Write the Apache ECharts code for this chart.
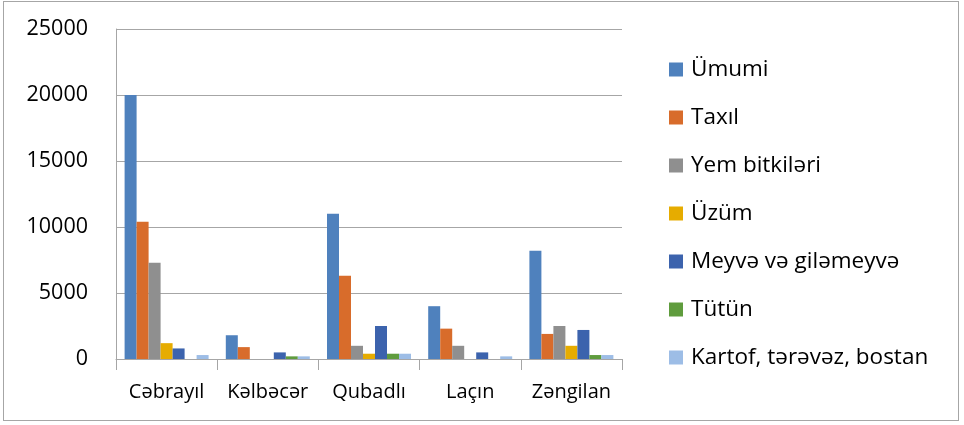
<!DOCTYPE html>
<html>
<head>
<meta charset="utf-8">
<script src="https://cdn.jsdelivr.net/npm/echarts@6/dist/echarts.min.js"></script>
<style>
  html, body { margin: 0; padding: 0; background: #fff; }
  #frame { position: absolute; left: 3px; top: 1px; width: 956px; height: 420px; border: 1px solid #a6a6a6; box-sizing: border-box; }
  #chart { width: 964px; height: 425px; position: absolute; left: 0; top: 0; }
</style>
</head>
<body>
<div id="frame"></div>
<div id="chart"></div>
<script>
const categories = ['Cəbrayıl', 'Kəlbəcər', 'Qubadlı', 'Laçın', 'Zəngilan'];
const seriesNames = ['Ümumi', 'Taxıl', 'Yem bitkiləri', 'Üzüm', 'Meyvə və giləmeyvə', 'Tütün', 'Kartof, tərəvəz, bostan'];
const colors = ['#4f81bd', '#d86c2b', '#8f8f8f', '#e6ac00', '#3c63ad', '#5f9c3d', '#9dbde6'];

const umumi = [20000, 1800, 11000, 4000, 8200];
const taxil = [10400, 900, 6300, 2300, 1900];
const yem = [7300, 0, 1000, 1000, 2500];
const uzum = [1200, 0, 400, 0, 1000];
const meyve = [800, 500, 2500, 500, 2200];
const tutun = [0, 200, 400, 0, 300];
const kartof = [300, 200, 400, 200, 300];

const yTicks = [0, 5000, 10000, 15000, 20000, 25000];

const values = [umumi, taxil, yem, uzum, meyve, tutun, kartof];
const font = '"Open Sans", Arial, sans-serif';

const chart = echarts.init(document.getElementById('chart'));
chart.setOption({
  animation: false,
  color: colors,
  grid: { left: 116, top: 29, width: 506, height: 330, containLabel: false },
  legend: {
    orient: 'vertical',
    left: 664,
    top: 53,
    itemWidth: 14,
    itemHeight: 14,
    itemGap: 25,
    icon: 'rect',
    textStyle: { fontFamily: font, fontSize: 22.5, color: '#000', padding: [0, 0, 0, 3] },
    data: seriesNames
  },
  xAxis: {
    type: 'category',
    data: categories,
    axisLine: { lineStyle: { color: '#a6a6a6', width: 1 } },
    axisTick: { show: true, interval: 0, length: 11, lineStyle: { color: '#a6a6a6' } },
    axisLabel: { interval: 0, fontFamily: font, fontSize: 20, color: '#000', margin: 23 }
  },
  yAxis: {
    type: 'value',
    min: yTicks[0],
    max: yTicks[yTicks.length - 1],
    interval: 5000,
    axisLine: { show: true, lineStyle: { color: '#a6a6a6' } },
    axisTick: { show: false },
    splitLine: { lineStyle: { color: '#a6a6a6', width: 1 } },
    axisLabel: { fontFamily: font, fontSize: 21.5, color: '#000', margin: 28, formatter: (v) => String(v) }
  },
  series: seriesNames.map((name, i) => ({
    name,
    type: 'bar',
    data: values[i],
    barGap: '0%',
    barCategoryGap: '17%'
  }))
});
</script>
</body>
</html>
